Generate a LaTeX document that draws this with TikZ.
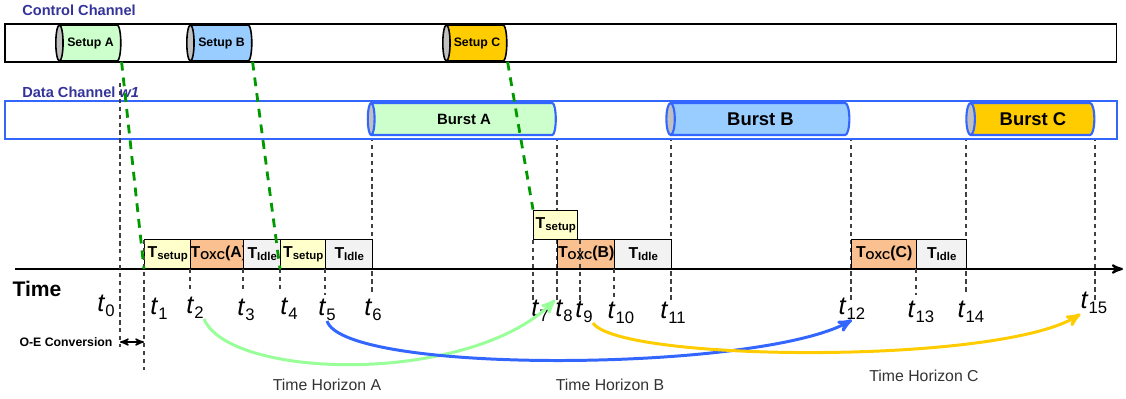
\documentclass[tikz,border=0pt]{standalone}
\usepackage{fontspec}
\setmainfont{Liberation Sans}
\usetikzlibrary{arrows,shapes.geometric}

\definecolor{ctrlblue}{RGB}{51,51,153}
\definecolor{datablue}{RGB}{51,102,255}
\definecolor{burstgreen}{RGB}{204,255,204}
\definecolor{burstblue}{RGB}{153,204,255}
\definecolor{burstyellow}{RGB}{255,204,0}
\definecolor{setupfill}{RGB}{255,255,204}
\definecolor{oxcfill}{RGB}{250,192,143}
\definecolor{idlefill}{RGB}{242,242,242}
\definecolor{endgray}{RGB}{192,192,192}
\definecolor{linkgreen}{RGB}{0,153,0}
\definecolor{arcgreen}{RGB}{153,255,153}

\newcommand{\Tsub}[1]{T\raisebox{-.25ex}{\fontsize{6.5}{6.5}\selectfont #1}}
\newcommand{\tsub}[1]{\textit{t}\raisebox{-.35ex}{\fontsize{9.5}{9.5}\selectfont #1}}

\begin{document}
\begin{tikzpicture}[x=0.02cm,y=-0.02cm,>=stealth',
  pipe/.style={cylinder,shape border rotate=180,shape aspect=0.65,draw,line width=0.9pt,
    cylinder uses custom fill,cylinder end fill=endgray,cylinder body fill=white,
    inner sep=0pt,font=\bfseries\fontsize{7}{7}\selectfont},
  slot/.style={draw,line width=0.8pt,anchor=south west,inner sep=0pt,minimum height=0.58cm,
    font=\bfseries\fontsize{9}{9}\selectfont},
  guide/.style={dash pattern=on 2.5pt off 2pt,line width=0.6pt,black!75},
  link/.style={dash pattern=on 5pt off 4pt,line width=1.6pt,linkgreen},
  horizon/.style={->,line width=1.7pt},
  tick label/.style={inner sep=0pt,font=\fontsize{14.5}{14.5}\selectfont},
  title/.style={anchor=west,inner sep=0pt,text=ctrlblue,font=\bfseries\fontsize{8.3}{8.3}\selectfont}]

  \useasboundingbox (0,0) rectangle (1126,399);

  % control channel (cylinder length is its minimum height)
  \node[title] (ctitle) at (22,10) {Control Channel};
  \node[pipe,minimum height=22.24cm,minimum width=0.76cm] (ctrl) at (561,43) {};
  \node[pipe,cylinder body fill=burstgreen,minimum height=1.3cm,minimum width=0.72cm] (setupA) at (90.5,43) {Setup A};
  \node[pipe,cylinder body fill=burstblue,minimum height=1.3cm,minimum width=0.72cm] (setupB) at (221.5,43) {Setup B};
  \node[pipe,cylinder body fill=burstyellow,minimum height=1.28cm,minimum width=0.72cm] (setupC) at (477,43) {Setup C};

  % data channel
  \node[title] (dtitle) at (22,92) {Data Channel \textit{w1}};
  \path[guide] (372,137) edge (372,292)
               (557,137) edge (557,300)
               (671,137) edge (671,300)
               (851,137) edge (851,300)
               (966,137) edge (966,295)
               (1095,137) edge (1095,300);
  \node[pipe,draw=datablue,line width=1.2pt,minimum height=22.26cm,minimum width=0.76cm] (data) at (561.5,120) {};
  \node[pipe,draw=datablue,line width=1.2pt,cylinder body fill=burstgreen,minimum height=3.76cm,minimum width=0.64cm,
    font=\bfseries\fontsize{8.5}{8.5}\selectfont] (burstA) at (464,119) {Burst A};
  \node[pipe,draw=datablue,line width=1.2pt,cylinder body fill=burstblue,minimum height=3.66cm,minimum width=0.64cm,
    font=\bfseries\fontsize{10.5}{10.5}\selectfont] (burstB) at (760.5,119) {Burst B};
  \node[pipe,draw=datablue,line width=1.2pt,cylinder body fill=burstyellow,minimum height=2.56cm,minimum width=0.64cm,
    font=\bfseries\fontsize{10.5}{10.5}\selectfont] (burstC) at (1033,119) {Burst C};

  % switching slots on the time axis
  \node[slot,fill=setupfill,minimum width=0.92cm] (s1) at (144,269) {\Tsub{setup}};
  \node[slot,fill=oxcfill,minimum width=1.06cm] (s2) at (190,269) {\Tsub{OXC}(A)};
  \node[slot,fill=idlefill,minimum width=0.74cm] (s3) at (243,269) {\Tsub{Idle}};
  \node[slot,fill=setupfill,minimum width=0.9cm] (s4) at (280,269) {\Tsub{setup}};
  \node[slot,fill=idlefill,minimum width=0.94cm] (s5) at (325,269) {\Tsub{Idle}};
  \node[slot,fill=setupfill,minimum width=0.88cm] (s6) at (533,240) {\Tsub{setup}};
  \node[slot,fill=oxcfill,minimum width=1.14cm] (s7) at (557,269) {\Tsub{OXC}(B)};
  \node[slot,fill=idlefill,minimum width=1.14cm] (s8) at (614,269) {\Tsub{Idle}};
  \node[slot,fill=oxcfill,minimum width=1.3cm] (s9) at (851,269) {\Tsub{OXC}(C)};
  \node[slot,fill=idlefill,minimum width=1cm] (s10) at (916,269) {\Tsub{Idle}};

  \coordinate (o) at (15,269);
  \coordinate (end) at (1123,269);
  \draw[->,line width=1.2pt] (o) -- (end);

  \path[guide] (120,83) edge (120,347)
               (144,240) edge (144,370)
               (190,269) edge (190,292)
               (243,269) edge (243,292)
               (280,269) edge (280,292)
               (325,269) edge (325,295)
               (533,240) edge (533,300)
               (580,240) edge (580,300)
               (614,269) edge (614,300)
               (916,269) edge (916,295);

  \node[font=\bfseries\fontsize{12}{12}\selectfont] (time) at (37,289) {Time};
  \node[tick label] (t0) at (106,306) {\tsub{0}};
  \node[tick label] (t1) at (159,309) {\tsub{1}};
  \node[tick label] (t2) at (195,308) {\tsub{2}};
  \node[tick label] (t3) at (246,310) {\tsub{3}};
  \node[tick label] (t4) at (289,309) {\tsub{4}};
  \node[tick label] (t5) at (327,310) {\tsub{5}};
  \node[tick label] (t6) at (373,310) {\tsub{6}};
  \node[tick label] (t7) at (540,311) {\tsub{7}};
  \node[tick label] (t8) at (564,311) {\tsub{8}};
  \node[tick label] (t9) at (584,312) {\tsub{9}};
  \node[tick label] (t10) at (621,313) {\tsub{10}};
  \node[tick label] (t11) at (673,313) {\tsub{11}};
  \node[tick label] (t12) at (852,309) {\tsub{12}};
  \node[tick label] (t13) at (921,312) {\tsub{13}};
  \node[tick label] (t14) at (971,312) {\tsub{14}};
  \node[tick label] (t15) at (1094,303) {\tsub{15}};

  % O-E conversion delay
  \node[font=\bfseries\fontsize{7}{7}\selectfont] (oe) at (66,342) {O-E Conversion};
  \draw[<->,line width=0.8pt] (120,342) -- (144,342);

  % control packets trigger the switch setup
  \draw[link] (setupA.east |- setupA.south) -- (s1.south west);
  \draw[link] (setupB.east |- setupB.south) -- (s4.south west);
  \draw[link] (setupC.east |- setupC.south) -- (s6.north west);

  % time horizons
  \draw[horizon,arcgreen] (t2.south east) .. controls (230,380) and (470,385) .. (t8.north west);
  \draw[horizon,datablue] (t5.south) .. controls (345,375) and (760,372) .. (t12.south);
  \draw[horizon,burstyellow] (t9.south east) .. controls (620,362) and (1000,365) .. (t15.south west);

  \node[text=black!80,font=\fontsize{9}{9}\selectfont] (hA) at (327,385) {Time Horizon A};
  \node[text=black!80,font=\fontsize{9}{9}\selectfont] (hB) at (610,385) {Time Horizon B};
  \node[text=black!80,font=\fontsize{9}{9}\selectfont] (hC) at (924,376) {Time Horizon C};
\end{tikzpicture}
\end{document}
